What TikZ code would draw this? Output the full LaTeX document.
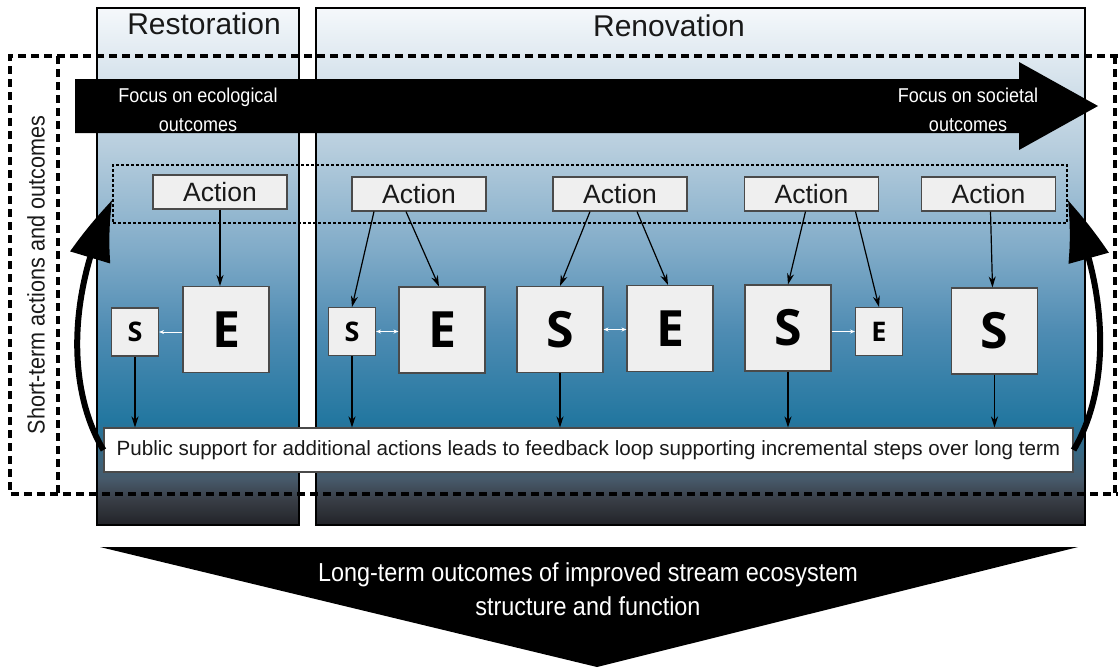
\documentclass[tikz,border=0pt]{standalone}
\usepackage{fontspec}
\setmainfont{Liberation Sans}
\newfontfamily\narrowfont{Liberation Sans}[FakeStretch=0.9]
\newfontfamily\sefont{Open Sans}
\usetikzlibrary{arrows.meta,calc,bending}
\definecolor{pd0}{HTML}{222328}
\definecolor{pd1}{HTML}{383D45}
\definecolor{pd2}{HTML}{475A6B}
\definecolor{pd3}{HTML}{2377A0}
\definecolor{pd4}{HTML}{4F8CB3}
\definecolor{pd5}{HTML}{80ABC8}
\definecolor{pd6}{HTML}{B6CDDD}
\definecolor{pd7}{HTML}{F5F8FB}
\definecolor{boxfill}{HTML}{EFEFEF}
\definecolor{boxline}{HTML}{4A4A4A}
\pgfdeclareverticalshading{panelshade}{100bp}{color(0bp)=(pd0); color(25bp)=(pd0); color(27.4bp)=(pd1); color(29.5bp)=(pd2); color(35.2bp)=(pd3); color(43.9bp)=(pd4); color(51.6bp)=(pd5); color(61.3bp)=(pd6); color(75bp)=(pd7); color(100bp)=(pd7)}
\tikzset{
  panel/.style={draw=black, line width=2pt, shading=panelshade, inner sep=0pt},
  title/.style={font=\fontsize{30}{33}\selectfont, text=black!90},
  actbox/.style={draw=boxline, fill=boxfill, line width=1.1pt, minimum width=134pt, minimum height=34pt, inner sep=0pt, font=\fontsize{26.5}{29}\selectfont, text=black!90},
  bigbox/.style={draw=boxline, fill=boxfill, line width=1.1pt, minimum width=86pt, minimum height=86pt, inner sep=0pt, font=\sefont\bfseries\fontsize{50}{54}\selectfont},
  smallbox/.style={draw=boxline, fill=boxfill, line width=1.1pt, minimum width=47pt, minimum height=48pt, inner sep=0pt, font=\sefont\bfseries\fontsize{27}{30}\selectfont},
  conn/.style={line width=1.2pt, -{Stealth[length=11pt,width=7pt]}},
  whitearr/.style={draw=white, line width=0.9pt, {Stealth[length=5pt,width=4pt]}-{Stealth[length=5pt,width=4pt]}},
  whiteleft/.style={draw=white, line width=0.9pt, {Stealth[length=5pt,width=4pt]}-},
  whiteright/.style={draw=white, line width=0.9pt, -{Stealth[length=5pt,width=4pt]}},
  bigdash/.style={line width=3.5pt, dash pattern=on 8pt off 5pt},
  smalldash/.style={line width=1.4pt, dash pattern=on 3pt off 2pt},
  bigcurve/.style={line width=6pt, -{Triangle[length=64pt,width=40pt,bend]}},
  whitetext/.style={text=white, narrowfont},
  narrowfont/.style={font=\narrowfont\fontsize{20}{29}\selectfont, align=center},
}
\begin{document}
\begin{tikzpicture}[x=1pt,y=-1pt]
\useasboundingbox (0,0) rectangle (1118,667);
% panels
\node[panel, minimum width=202pt, minimum height=517pt] (rest) at (198,266.5) {};
\node[panel, minimum width=769pt, minimum height=517pt] (reno) at (700.5,266.5) {};
\node[title] (trest) at (204,24) {Restoration};
\node[title] (treno) at (669,26) {Renovation};
% outer dashed frame
\draw[bigdash] (1118,56) -- (10,56) -- (10,494) -- (1118,494);
\draw[bigdash] (1115,56) -- (1115,494);
\draw[bigdash] (58,56) -- (58,494);
\node[rotate=90, font=\narrowfont\fontsize{24}{27}\selectfont, text=black!90] (short) at (36,275) {Short-term actions and outcomes};
% big black arrow
\fill[black] (75,79) -- (1019,79) -- (1019,62) -- (1098,106) -- (1019,150) -- (1019,133) -- (75,133) -- cycle;
\node[whitetext] (fecol) at (198,110) {Focus on ecological\\outcomes};
\node[whitetext] (fsoc) at (968,110) {Focus on societal\\outcomes};
% dotted box
\node[draw, smalldash, minimum width=954pt, minimum height=58pt, inner sep=0pt] (dotbox) at (590,194) {};
% action boxes
\node[actbox] (a1) at (220,192) {Action};
\node[actbox] (a2) at (419,194) {Action};
\node[actbox] (a3) at (620,194) {Action};
\node[actbox] (a4) at (811.5,194) {Action};
\node[actbox] (a5) at (988.5,194) {Action};
% S / E boxes
\node[smallbox] (s1) at (135,332) {S};
\node[bigbox] (e1) at (226,329.5) {E};
\node[smallbox] (s2) at (352,331.5) {S};
\node[bigbox] (e2) at (442,330) {E};
\node[bigbox] (s3) at (560,329.5) {S};
\node[bigbox] (e3) at (670,328.5) {E};
\node[bigbox] (s4) at (788,328) {S};
\node[smallbox] (e4) at (879,331.5) {E};
\node[bigbox] (s5) at (994.5,331) {S};
% public support box
\node[draw=boxline, fill=white, line width=1.1pt, minimum width=969pt, minimum height=44pt, inner sep=0pt, font=\fontsize{20.6}{24}\selectfont, text=black!90] (pub) at (588.5,450) {Public support for additional actions leads to feedback loop supporting incremental steps over long term};
% action connectors
\draw[conn] (a1.south) -- ([xshift=-6pt]e1.north);
\draw[conn] ([xshift=-45pt]a2.south) -- (s2.north);
\draw[conn] ([xshift=-13pt]a2.south) -- ([xshift=-3pt]e2.north);
\draw[conn] ([xshift=-30pt]a3.south) -- (s3.north);
\draw[conn] ([xshift=17pt]a3.south) -- ([xshift=-2pt]e3.north);
\draw[conn] ([xshift=-6pt]a4.south) -- (s4.north);
\draw[conn] ([xshift=44pt]a4.south) -- (e4.north);
\draw[conn] ([xshift=2pt]a5.south) -- ([xshift=-2pt]s5.north);
% S to public
\draw[conn] (s1.south) -- (s1.south |- pub.north);
\draw[conn] (s2.south) -- (s2.south |- pub.north);
\draw[conn] (s3.south) -- (s3.south |- pub.north);
\draw[conn] (s4.south) -- (s4.south |- pub.north);
\draw[conn] (s5.south) -- (s5.south |- pub.north);
% white S-E arrows
\draw[whiteleft] (s1.east) -- (s1.east -| e1.west);
\draw[whitearr] (s2.east) -- (s2.east -| e2.west);
\draw[whitearr] (s3.east) -- (s3.east -| e3.west);
\draw[whiteright] (s4.east |- e4.west) -- (e4.west);
% curved feedback arrows
\draw[bigcurve] (pub.west) .. controls (70,395) and (64,300) .. ([yshift=-6pt]dotbox.west);
\draw[bigcurve] (pub.east) .. controls (1107,395) and (1113,300) .. ([yshift=-6pt]dotbox.east);
% long-term triangle
\fill[black] (100,547) -- (1078,547) -- (597,667) -- cycle;
\node[whitetext, font=\narrowfont\fontsize{26}{34}\selectfont, align=center] (longterm) at (588,589) {Long-term outcomes of improved stream ecosystem\\structure and function};
\end{tikzpicture}
\end{document}
